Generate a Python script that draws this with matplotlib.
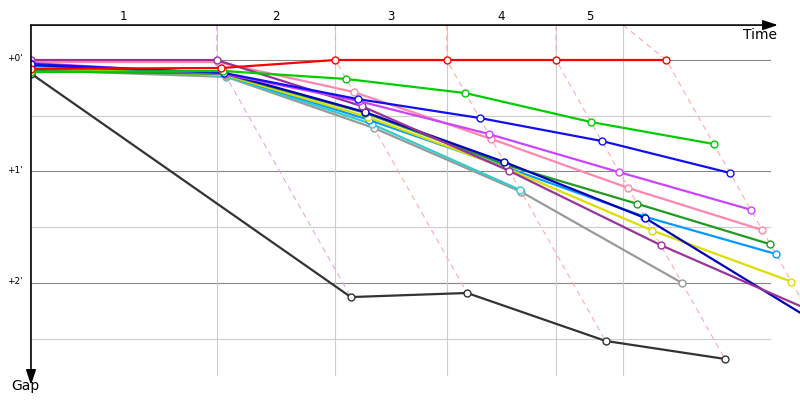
import matplotlib
matplotlib.use('Agg')
import matplotlib.pyplot as plt
from matplotlib.patches import Rectangle

# ---- data (time in seconds, gap to leader in seconds) ----
leader_times = [177, 290, 396, 500, 605]      # leader's lap completion times
lap_marks = [177, 290, 396, 500, 564]         # vertical lap separators
lap_labels = ['1', '2', '3', '4', '5']
lap_line_colors = ['#dcaadc', '#ffaaaa', '#ffaaaa', '#ffaaaa', '#ffaaaa']
y_ticks = [0, 60, 120]
y_tick_labels = ["+0'", "+1'", "+2'"]

# gaps: start value followed by one value per completed lap
gap_black = [7.3, 127.6, 125.4, 151.2, 160.9]
gap_teal = [3.8, 8.6, 34.4, 70.0]
gap_gray = [5.4, 9.1, 36.6, 71.0, 120.0]
gap_navy = [2.7, 7.0, 28.0, 54.9, 85.1, 140.5]
gap_yellow = [4.3, 8.1, 30.7, 58.7, 91.8, 119.3]
gap_lightblue = [3.2, 8.1, 32.3, 58.1, 84.3, 104.4]
gap_darkgreen = [5.9, 7.5, 28.5, 56.5, 77.4, 99.2]
gap_violet = [1.6, 7.5, 22.1, 39.8, 60.4, 80.6]
gap_blue = [2.2, 7.0, 21.0, 31.2, 43.6, 60.8]
gap_green = [6.5, 5.9, 10.2, 17.8, 33.4, 45.2]
gap_pink = [1.1, 1.1, 17.2, 42.5, 68.9, 91.5]
gap_purple = [0.0, 0.0, 24.8, 59.7, 99.6, 134.0]
gap_red = [4.8, 4.3, 0.0, 0.0, 0.0, 0.0]

cars = [
    ('#333333', gap_black),
    ('#999999', gap_gray),
    ('#33cccc', gap_teal),
    ('#0099ff', gap_lightblue),
    ('#dddd00', gap_yellow),
    ('#229922', gap_darkgreen),
    ('#0000bb', gap_navy),
    ('#ff88aa', gap_pink),
    ('#993399', gap_purple),
    ('#cc44ff', gap_violet),
    ('#1010ee', gap_blue),
    ('#00cc00', gap_green),
    ('#ff0000', gap_red),
]

TOP = -18.8
X_END_GRID = 703.8
Y_END_GRID = 169.5

fig = plt.figure(figsize=(8, 4), dpi=100)
ax = fig.add_axes([0, 0, 1, 1])
ax.set_xlim(-29.5, 732.4)
ax.set_ylim(183.0, -32.3)
ax.axis('off')

clip_rect = Rectangle((0, -40), 1000, 300, transform=ax.transData,
                      facecolor='none', edgecolor='none')

# horizontal grid
for g in [0, 30, 60, 90, 120, 150]:
    major = (g % 60 == 0)
    ax.plot([0, X_END_GRID], [g, g], color='#888888' if major else '#cccccc',
            lw=0.8, zorder=1)
# vertical lap separators
for t in lap_marks:
    ax.plot([t, t], [TOP, Y_END_GRID], color='#cccccc', lw=0.8, zorder=1)

# lap connecting dashed lines
for k in range(len(leader_times)):
    pts = []
    for color, gaps in cars:
        if len(gaps) > k + 1:
            g = gaps[k + 1]
            pts.append((leader_times[k] + g, g))
    pts.sort(key=lambda p: p[1])
    xs = [lap_marks[k]] + [p[0] for p in pts]
    ys = [TOP] + [p[1] for p in pts]
    ax.plot(xs, ys, color=lap_line_colors[k], lw=0.8, dashes=[5, 4], zorder=2)

# car lines
for i, (color, gaps) in enumerate(cars):
    xs = [0] + [leader_times[j] + g for j, g in enumerate(gaps[1:])]
    ln, = ax.plot(xs, gaps, color=color, lw=1.6, marker='o', ms=5, mfc='white',
                  mec=color, mew=1.0, zorder=3 + i * 0.01)
    ln.set_clip_path(clip_rect)

# axes arrows
ax.annotate('', xy=(711.4, TOP), xytext=(0, TOP),
            arrowprops=dict(arrowstyle='-|>,head_length=0.9,head_width=0.3',
                            color='black', lw=1.2, shrinkA=0, shrinkB=0), zorder=5)
ax.annotate('', xy=(0, 174.9), xytext=(0, TOP),
            arrowprops=dict(arrowstyle='-|>,head_length=0.9,head_width=0.3',
                            color='black', lw=1.2, shrinkA=0, shrinkB=0), zorder=5)

ax.text(710.5, -13.3, 'Time', ha='right', va='center', fontsize=10, color='black')
ax.text(-5.7, 175.6, 'Gap', ha='center', va='center', fontsize=10, color='black')

bounds = [0] + lap_marks
for i, lab in enumerate(lap_labels):
    ax.text((bounds[i] + bounds[i + 1]) / 2, -23.3, lab, ha='center', va='center',
            fontsize=8.5, color='black')

for g, lab in zip(y_ticks, y_tick_labels):
    ax.text(-7.6, g - 0.6, lab, ha='right', va='center', fontsize=6.5, color='black')

fig.savefig('out.png', dpi=100)
